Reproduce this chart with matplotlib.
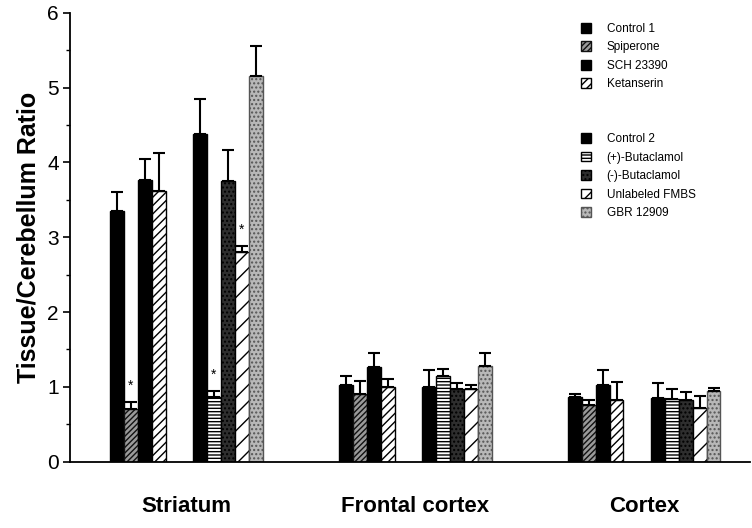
import numpy as np
import matplotlib.pyplot as plt
import matplotlib as mpl
from matplotlib.patches import Patch
from matplotlib.ticker import MultipleLocator

mpl.rcParams['font.family'] = ['Liberation Sans', 'DejaVu Sans']
mpl.rcParams['hatch.linewidth'] = 1.0

regions = ['Striatum', 'Frontal cortex', 'Cortex']

# group 1 treatments
g1_names = ['Control 1', 'Spiperone', 'SCH 23390', 'Ketanserin']
g1_vals = [[3.35, 0.70, 3.76, 3.62],
           [1.02, 0.90, 1.27, 1.00],
           [0.87, 0.76, 1.02, 0.82]]
g1_err = [[0.26, 0.10, 0.28, 0.50],
          [0.12, 0.18, 0.18, 0.11],
          [0.03, 0.06, 0.20, 0.25]]

# group 2 treatments
g2_names = ['Control 2', '(+)-Butaclamol', '(-)-Butaclamol', 'Unlabeled FMBS', 'GBR 12909']
g2_vals = [[4.38, 0.87, 3.75, 2.80, 5.15],
           [1.00, 1.15, 0.97, 0.97, 1.28],
           [0.85, 0.84, 0.82, 0.72, 0.95]]
g2_err = [[0.46, 0.08, 0.42, 0.08, 0.40],
          [0.22, 0.09, 0.08, 0.06, 0.17],
          [0.20, 0.13, 0.11, 0.16, 0.03]]

# significant bars in striatum (group, index)
stars = [(1, 1), (2, 1), (2, 3)]

g1_style = [dict(facecolor='black', hatch=None, edgecolor='black'),
            dict(facecolor='#9a9a9a', hatch='//////', edgecolor='#111111'),
            dict(facecolor='black', hatch=None, edgecolor='black'),
            dict(facecolor='white', hatch='////', edgecolor='black')]
g2_style = [dict(facecolor='black', hatch=None, edgecolor='black'),
            dict(facecolor='white', hatch='-----', edgecolor='black'),
            dict(facecolor='#2e2e2e', hatch='....', edgecolor='black'),
            dict(facecolor='white', hatch='//', edgecolor='black'),
            dict(facecolor='#b8b8b8', hatch='....', edgecolor='#555555')]

step = 16.4
g2_off = 5.95

fig = plt.figure(figsize=(7.52, 5.28), dpi=100)
ax = fig.add_axes([0.093, 0.1256, 0.905, 0.8504])

for r in range(len(regions)):
    base = r * step
    for i in range(len(g1_names)):
        x = base + i + 0.5
        ax.bar(x, g1_vals[r][i], width=1.0, linewidth=1.0, zorder=2, **g1_style[i])
        ax.errorbar(x, g1_vals[r][i], yerr=[[0], [g1_err[r][i]]], fmt='none',
                    ecolor='black', elinewidth=1.5, capsize=4, capthick=1.5, zorder=3)
    for i in range(len(g2_names)):
        x = base + g2_off + i + 0.5
        ax.bar(x, g2_vals[r][i], width=1.0, linewidth=1.0, zorder=2, **g2_style[i])
        ax.errorbar(x, g2_vals[r][i], yerr=[[0], [g2_err[r][i]]], fmt='none',
                    ecolor='black', elinewidth=1.5, capsize=4, capthick=1.5, zorder=3)

for g, i in stars:
    if g == 1:
        x, top = i + 0.5, g1_vals[0][i] + g1_err[0][i]
    else:
        x, top = g2_off + i + 0.5, g2_vals[0][i] + g2_err[0][i]
    ax.text(x, top + 0.12, '*', ha='center', va='bottom', fontsize=10)

ax.set_xlim(-2.86, 45.9)
ax.set_ylim(0, 6)
ax.set_xticks([r * step + 5.5 for r in range(len(regions))])
ax.set_xticklabels(regions, fontsize=16, fontweight='bold')
ax.tick_params(axis='x', length=0, pad=25)
ax.yaxis.set_major_locator(MultipleLocator(1))
ax.yaxis.set_minor_locator(MultipleLocator(0.5))
ax.tick_params(axis='y', which='major', length=5, width=1.2, labelsize=15, pad=3)
ax.tick_params(axis='y', which='minor', length=3, width=1.0)
ax.set_ylabel('Tissue/Cerebellum Ratio', fontsize=18, fontweight='bold', labelpad=5)

for s in ['top', 'right']:
    ax.spines[s].set_visible(False)
for s in ['left', 'bottom']:
    ax.spines[s].set_linewidth(1.3)

h1 = [Patch(label=n, linewidth=1.0, **st) for n, st in zip(g1_names, g1_style)]
h2 = [Patch(label=n, linewidth=1.0, **st) for n, st in zip(g2_names, g2_style)]
leg1 = ax.legend(handles=h1, loc='upper left', bbox_to_anchor=(0.772, 0.957),
                 bbox_transform=fig.transFigure, frameon=False, fontsize=8.5,
                 handlelength=0.9, handleheight=0.9, labelspacing=0.55,
                 handletextpad=1.3, borderpad=0, borderaxespad=0)
ax.add_artist(leg1)
ax.legend(handles=h2, loc='upper left', bbox_to_anchor=(0.772, 0.748),
          bbox_transform=fig.transFigure, frameon=False, fontsize=8.5,
          handlelength=0.9, handleheight=0.9, labelspacing=0.55,
          handletextpad=1.3, borderpad=0, borderaxespad=0)

plt.savefig('out.png', dpi=100)
